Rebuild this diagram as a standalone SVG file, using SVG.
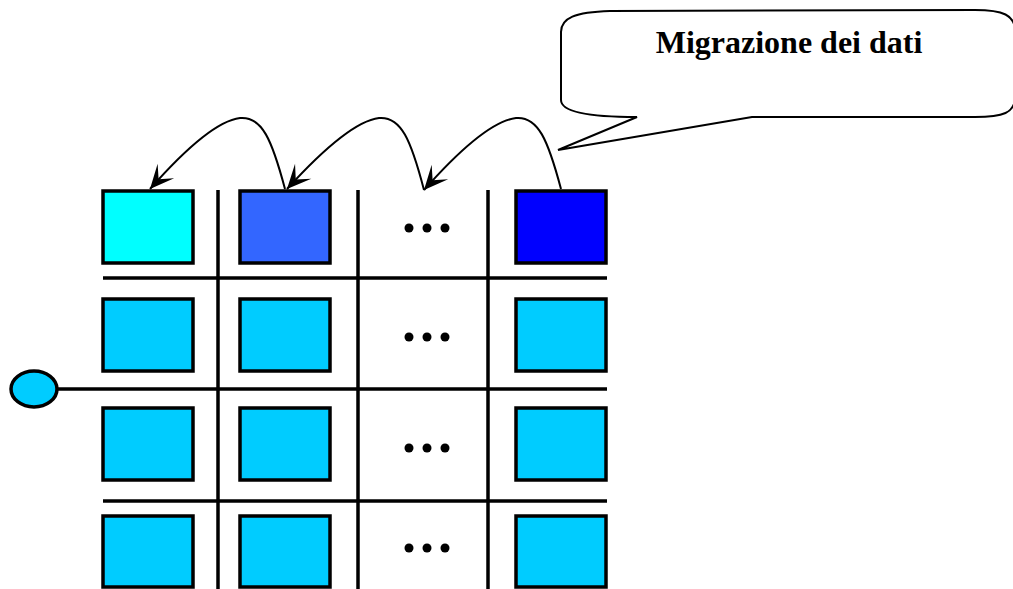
<svg xmlns="http://www.w3.org/2000/svg" width="1013" height="589" viewBox="0 0 1013 589">
<style>
.cell{stroke:#000;stroke-width:3.5}
.grid{stroke:#000;stroke-width:3.5;fill:none}
.arc{stroke:#000;stroke-width:2;fill:none}
.dot{fill:#000}
.lbl{font-family:"Liberation Serif","Times New Roman",serif;font-weight:bold;font-size:32px;fill:#000}
</style>
<defs>
<marker id="ah" markerUnits="userSpaceOnUse" viewBox="-26 -13 28 26" markerWidth="28" markerHeight="26" refX="0" refY="0" orient="auto">
<path d="M0,0 L-24,-11 L-13,0 L-24,11 Z" fill="#000"/>
</marker>
</defs>
<rect width="1013" height="589" fill="#fff"/>
<g id="grid">
<line class="grid" x1="218" y1="190" x2="218" y2="589"/>
<line class="grid" x1="358" y1="190" x2="358" y2="589"/>
<line class="grid" x1="488" y1="190" x2="488" y2="589"/>
<line class="grid" x1="103" y1="278" x2="607" y2="278"/>
<line class="grid" x1="56" y1="389" x2="607" y2="389"/>
<line class="grid" x1="103" y1="501" x2="607" y2="501"/>
</g>
<g id="node-port"><ellipse cx="34" cy="389" rx="23" ry="18" fill="#00CCFF" stroke="#000" stroke-width="3.5"/></g>
<g id="row1">
<rect id="c11" class="cell" x="103" y="191" width="90" height="72" fill="#00FFFF"/>
<rect id="c12" class="cell" x="240" y="191" width="90" height="72" fill="#3366FF"/>
<rect id="c14" class="cell" x="516" y="191" width="90" height="72" fill="#0000FF"/>
<circle class="dot" cx="409" cy="228" r="4.5"/><circle class="dot" cx="427" cy="228" r="4.5"/><circle class="dot" cx="445" cy="228" r="4.5"/>
</g>
<g id="row2">
<rect class="cell" x="103" y="299" width="90" height="72" fill="#00CCFF"/>
<rect class="cell" x="240" y="299" width="90" height="72" fill="#00CCFF"/>
<rect class="cell" x="516" y="299" width="90" height="72" fill="#00CCFF"/>
<circle class="dot" cx="409" cy="337" r="4.5"/><circle class="dot" cx="427" cy="337" r="4.5"/><circle class="dot" cx="445" cy="337" r="4.5"/>
</g>
<g id="row3">
<rect class="cell" x="103" y="408" width="90" height="72" fill="#00CCFF"/>
<rect class="cell" x="240" y="408" width="90" height="72" fill="#00CCFF"/>
<rect class="cell" x="516" y="408" width="90" height="72" fill="#00CCFF"/>
<circle class="dot" cx="409" cy="448" r="4.5"/><circle class="dot" cx="427" cy="448" r="4.5"/><circle class="dot" cx="445" cy="448" r="4.5"/>
</g>
<g id="row4">
<rect class="cell" x="103" y="516" width="90" height="71" fill="#00CCFF"/>
<rect class="cell" x="240" y="516" width="90" height="71" fill="#00CCFF"/>
<rect class="cell" x="516" y="516" width="90" height="71" fill="#00CCFF"/>
<circle class="dot" cx="409" cy="548" r="4.5"/><circle class="dot" cx="427" cy="548" r="4.5"/><circle class="dot" cx="445" cy="548" r="4.5"/>
</g>
<g id="connectors">
<path class="arc" marker-end="url(#ah)" d="M285,189 C272,140 262,116 240,118 C215,121 180,155 150,189"/>
<path class="arc" marker-end="url(#ah)" d="M424,190 C411,140 401,116 379,118 C354,121 318,155 287,189"/>
<path class="arc" marker-end="url(#ah)" d="M561,189 C548,140 538,116 516,118 C491,121 455,155 424,190"/>
</g>
<g id="callout">
<path d="M637,117 L558,150 L752,117 L975,117 C1005,117 1013,112 1015,100 L1015,28 C1013,16 1005,10 975,10 L610,11 C575,12 561,18 561,32 L561,100 C561,112 590,117 637,117 Z" fill="#fff" stroke="#000" stroke-width="2"/>
<text class="lbl" x="789" y="53" text-anchor="middle">Migrazione dei dati</text>
</g>
</svg>
